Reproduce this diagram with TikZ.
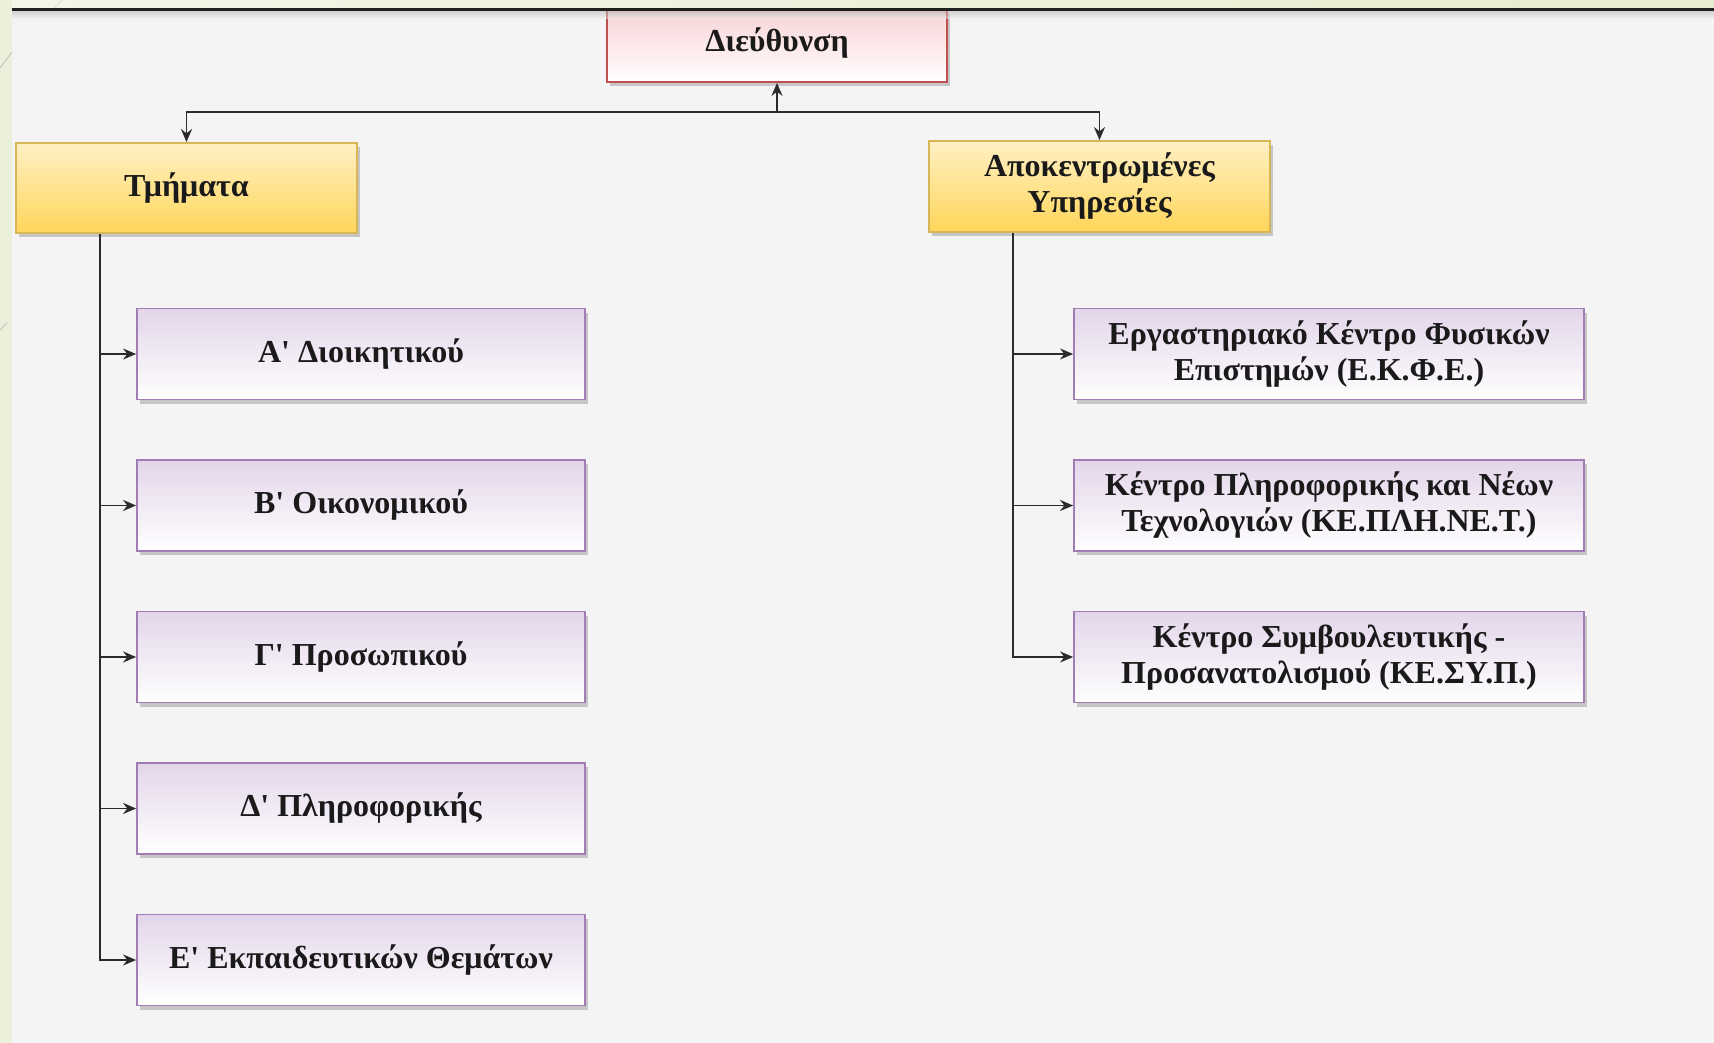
\documentclass[tikz,border=0pt]{standalone}
\usepackage{fontspec}
\setmainfont{Liberation Serif}[Ligatures=TeXOff]
\usetikzlibrary{arrows.meta,shadows}
\definecolor{bg}{HTML}{F4F4F4}
\definecolor{strip}{HTML}{EBF0DA}
\definecolor{stripA}{HTML}{F3F5E7}
\definecolor{stripB}{HTML}{E6ECD0}
\definecolor{txt}{HTML}{1A1A1A}
\definecolor{ln}{HTML}{2B2B2B}
\definecolor{redb}{HTML}{C0504D}
\definecolor{redt}{HTML}{F8D3D6}
\definecolor{yelb}{HTML}{D6B656}
\definecolor{yelt}{HTML}{FFF0C4}
\definecolor{yelbot}{HTML}{FFD65A}
\definecolor{purb}{HTML}{A27DB5}
\definecolor{purt}{HTML}{E3D5EA}
\begin{document}
\begin{tikzpicture}[x=1pt,y=-1pt,
  box/.style={rectangle, line width=1.8pt, align=center, inner sep=0pt,
    font=\fontsize{32}{36}\selectfont\bfseries, text=txt,
    drop shadow={shadow xshift=3pt, shadow yshift=-4pt, opacity=0.35, fill=black!55}},
  redbox/.style={box, draw=redb, top color=redt, bottom color=white,
    minimum width=340pt, minimum height=72pt},
  yelbox/.style={box, draw=yelb, top color=yelt, bottom color=yelbot,
    minimum width=341pt, minimum height=90pt},
  purbox/.style={box, draw=purb, top color=purt, bottom color=white,
    minimum height=91pt},
  conn/.style={draw=ln, line width=1.6pt},
  arr/.style={conn, -{Stealth[length=13pt,width=11pt]}}
]
\useasboundingbox (0,0) rectangle (1714,1043);
% background
\fill[bg] (0,0) rectangle (1714,1043);
\fill[strip] (0,0) rectangle (12,1043);
\shade[left color=stripA, right color=stripB] (12,0) rectangle (1714,8);
\draw[black!25, line width=0.8pt] (12,52) -- (0,68);
\draw[black!25, line width=0.8pt] (7,323) -- (0,330);
\draw[black!12, line width=0.8pt] (62,0) -- (54,8);

% nodes
\node[redbox] (dir) at (777,46) {\raisebox{12pt}{Διεύθυνση}};
\node[yelbox] (tm) at (186.5,188) {Τμήματα};
\node[yelbox, minimum height=91pt] (ap) at (1099.5,186.5) {Αποκεντρωμένες\\Υπηρεσίες};

\node[purbox, minimum width=448pt] (a) at (361,354) {Α\char"27{} Διοικητικού};
\node[purbox, minimum width=448pt] (b) at (361,505.5) {Β\char"27{} Οικονομικού};
\node[purbox, minimum width=448pt] (c) at (361,657) {Γ\char"27{} Προσωπικού};
\node[purbox, minimum width=448pt] (d) at (361,808.5) {Δ\char"27{} Πληροφορικής};
\node[purbox, minimum width=448pt] (e) at (361,960) {Ε\char"27{} Εκπαιδευτικών Θεμάτων};

\node[purbox, minimum width=510pt] (r1) at (1329,354) {Εργαστηριακό Κέντρο Φυσικών\\Επιστημών (Ε.Κ.Φ.Ε.)};
\node[purbox, minimum width=510pt] (r2) at (1329,505.5) {Κέντρο Πληροφορικής και Νέων\\Τεχνολογιών (ΚΕ.ΠΛΗ.ΝΕ.Τ.)};
\node[purbox, minimum width=510pt] (r3) at (1329,657) {Κέντρο Συμβουλευτικής -\\Προσανατολισμού (ΚΕ.ΣΥ.Π.)};

% top bar (covers top of Διεύθυνση)
\shade[top color=black!30, bottom color=bg, opacity=0.5] (12,11.5) rectangle (1714,19);
\fill[black!88] (12,8) rectangle (1714,11.5);

% connectors
\coordinate (junc) at (777,112);
\coordinate (lx) at (100,0);
\coordinate (rx) at (1013,0);
\draw[arr] (junc) -- (dir.south);
\draw[arr] (junc) -| (tm.north);
\draw[arr] (junc) -| (ap.north);

\draw[arr] (tm.south -| lx) |- (e.west);
\draw[arr] (a.west -| lx) -- (a.west);
\draw[arr] (b.west -| lx) -- (b.west);
\draw[arr] (c.west -| lx) -- (c.west);
\draw[arr] (d.west -| lx) -- (d.west);

\draw[arr] (ap.south -| rx) |- (r3.west);
\draw[arr] (r1.west -| rx) -- (r1.west);
\draw[arr] (r2.west -| rx) -- (r2.west);
\end{tikzpicture}
\end{document}
